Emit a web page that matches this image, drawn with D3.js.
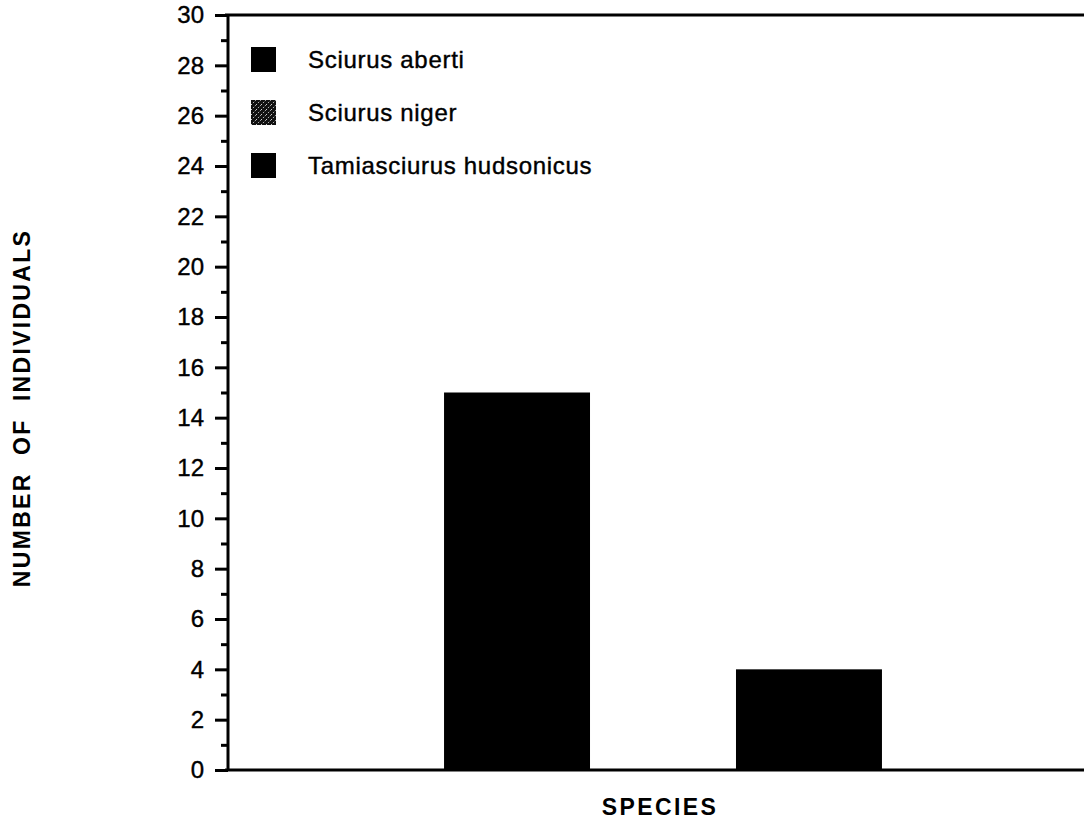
<!DOCTYPE html>
<html><head><meta charset="utf-8">
<script src="https://cdn.jsdelivr.net/npm/d3@7"></script>
<style>body{margin:0;background:#fff;}svg{display:block;}</style>
</head><body>
<script>
const species = ["Sciurus aberti", "Sciurus niger", "Tamiasciurus hudsonicus"];
const counts = [15, 0, 4];
const majorTicks = [0,2,4,6,8,10,12,14,16,18,20,22,24,26,28,30];
const minorTicks = [1,3,5,7,9,11,13,15,17,19,21,23,25,27,29];
const yTitle = "NUMBER  OF  INDIVIDUALS";
const xTitle = "SPECIES";

const W = 1084, H = 822;
const svg = d3.select("body").append("svg").attr("width", W).attr("height", H);
const defs = svg.append("defs");
const pat = defs.append("pattern").attr("id","hatch").attr("patternUnits","userSpaceOnUse")
  .attr("width",5).attr("height",5);
pat.append("rect").attr("width",5).attr("height",5).attr("fill","#111");
pat.append("path").attr("d","M0,5 L5,0").attr("stroke","#ccc").attr("stroke-width",1).attr("stroke-dasharray","1.5,1.5");

const mLeft = 228, mTop = 15, mBottom = 770, mRight = 1098;
const y = d3.scaleLinear().domain([0,30]).range([mBottom, mTop]);
const x = d3.scaleBand().domain(species).range([mLeft, mRight]).paddingInner(0).paddingOuter(1.48);
const fills = ["#000", "url(#hatch)", "#000"];
const font = "'Liberation Sans', Arial, Helvetica, sans-serif";

// bars
svg.append("g").selectAll("rect").data(species).join("rect")
  .attr("x", d => x(d)).attr("width", x.bandwidth())
  .attr("y", (d,i) => y(counts[i])).attr("height", (d,i) => y(0) - y(counts[i]))
  .attr("fill", (d,i) => fills[i]);

// frame lines
svg.append("line").attr("x1", mLeft-3).attr("x2", W+20).attr("y1", mTop).attr("y2", mTop)
  .attr("stroke","#000").attr("stroke-width",3);
svg.append("line").attr("x1", mLeft-3).attr("x2", W+20).attr("y1", mBottom).attr("y2", mBottom)
  .attr("stroke","#000").attr("stroke-width",3);

// y axis
const yAxis = d3.axisLeft(y).tickValues(majorTicks).tickSize(13).tickPadding(11).tickFormat(d3.format("d"));
const gy = svg.append("g").attr("transform", `translate(${mLeft},0)`).call(yAxis);
gy.select(".domain").attr("stroke-width",3).attr("d", `M0,${mTop}V${mBottom}`);
gy.selectAll(".tick line").attr("stroke-width",3);
gy.selectAll(".tick text").attr("font-family",font).attr("font-size",24).attr("fill","#000")
  .attr("stroke","#000").attr("stroke-width",0.4);
const gm = svg.append("g").attr("transform", `translate(${mLeft},0)`)
  .call(d3.axisLeft(y).tickValues(minorTicks).tickSize(7).tickFormat(""));
gm.select(".domain").remove();
gm.selectAll(".tick line").attr("stroke-width",3);

// legend
const lg = svg.append("g").attr("transform","translate(251,47)");
const li = lg.selectAll("g").data(species).join("g").attr("transform",(d,i)=>`translate(0,${i*53})`);
li.append("rect").attr("width",25).attr("height",25).attr("fill",(d,i)=>fills[i]);
li.append("text").attr("x",57).attr("y",21).text(d=>d)
  .attr("font-family",font).attr("font-size",24).attr("letter-spacing","0.7px").attr("fill","#000")
  .attr("stroke","#000").attr("stroke-width",0.4);

// axis titles
svg.append("text").attr("transform","translate(30,408) rotate(-90)").attr("text-anchor","middle")
  .attr("font-family",font).attr("font-weight","bold")
  .attr("font-size",23).attr("letter-spacing","2.3px").style("white-space","pre").text(yTitle);
svg.append("text").attr("x",660).attr("y",815).attr("text-anchor","middle")
  .attr("font-family",font).attr("font-weight","bold")
  .attr("font-size",23).attr("letter-spacing","2.4px").text(xTitle);
</script>
</body></html>
